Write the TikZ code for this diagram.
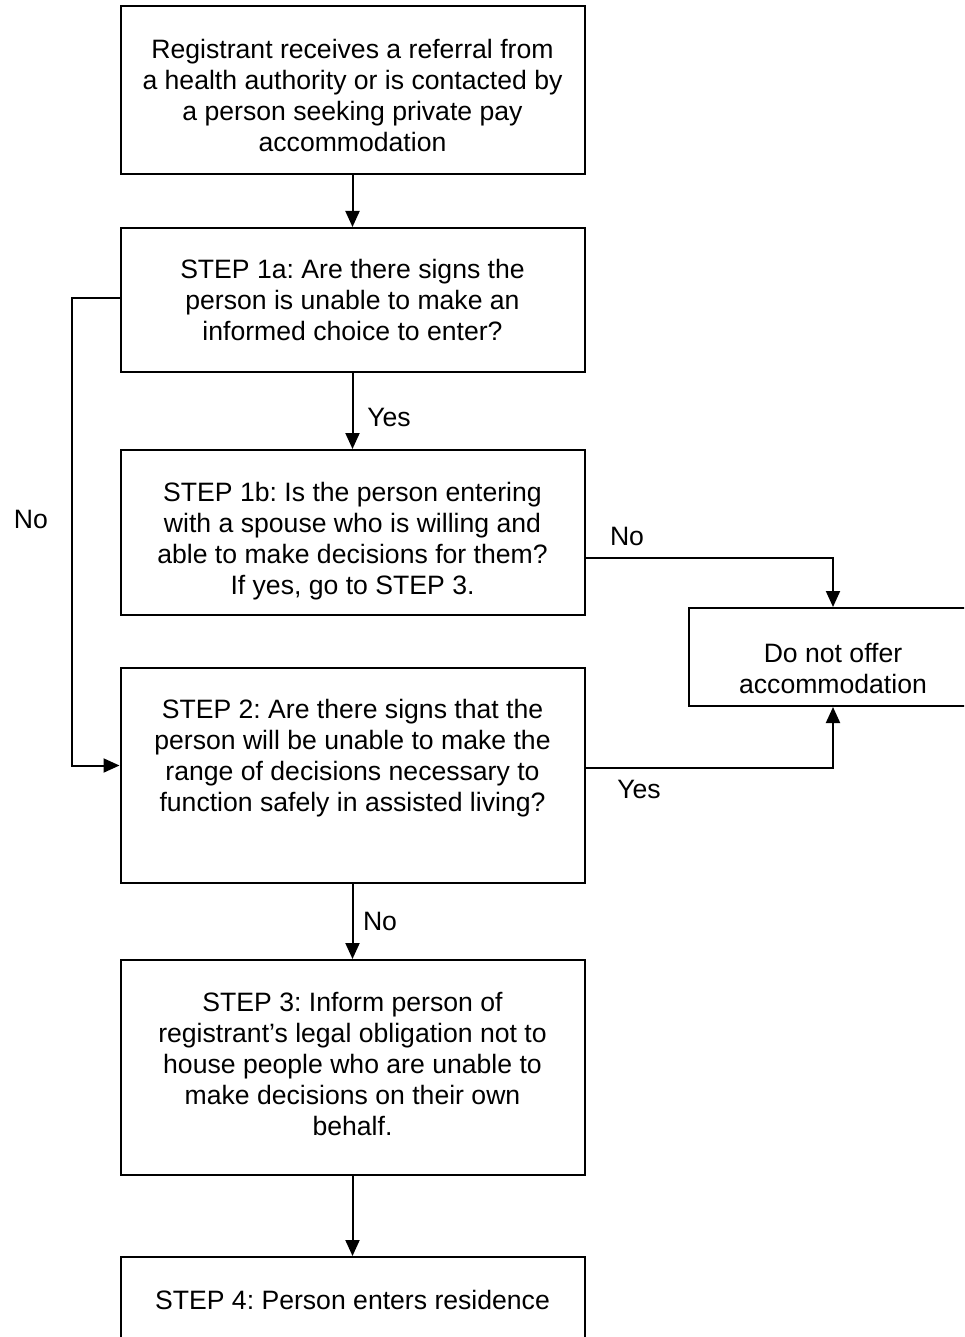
\documentclass[tikz,border=0pt]{standalone}
\usepackage{fontspec}
\setmainfont{Liberation Sans}
\frenchspacing
\usetikzlibrary{arrows.meta}
% push the text of a box down (top strut) or up (bottom strut)
\newcommand\topgap[1]{\rule{0pt}{#1}}
\newcommand\botgap[1]{\rule[-#1]{0pt}{#1}}

\begin{document}
\begin{tikzpicture}[
  x=0.5pt, y=-0.5pt,
  every node/.style={font=\fontsize{13.3}{15.5}\selectfont},
  stepbox/.style={draw, line width=1pt, align=center, minimum width=232pt, inner sep=0pt},
  arr/.style={line width=1pt, -{Triangle[width=7pt,length=8pt]}},
  lbl/.style={inner sep=0pt}
]
\fill[white] (0,0) rectangle (964,1337);
\clip (0,0) rectangle (964,1337);
\useasboundingbox (0,0) rectangle (964,1337);

% boxes of the main column
\node[stepbox, minimum height=84pt] (reg) at (352.5,90)
  {\topgap{14.7pt}Registrant receives a referral from\\a health authority or is contacted by\\a person seeking private pay\\accommodation};
\node[stepbox, minimum height=72pt] (s1a) at (352.5,300)
  {STEP 1a: Are there signs the\\person is unable to make an\\informed choice to enter?};
\node[stepbox, minimum height=82.5pt] (s1b) at (352.5,532.5)
  {\topgap{18.7pt}STEP 1b: Is the person entering\\with a spouse who is willing and\\able to make decisions for them?\\If yes, go to STEP 3.};
\node[stepbox, minimum height=107.5pt] (s2) at (352.5,775.5)
  {STEP 2: Are there signs that the\\person will be unable to make the\\range of decisions necessary to\\function safely in assisted living?\\\strut};
\node[stepbox, minimum height=107.5pt] (s3) at (352.5,1067.5)
  {STEP 3: Inform person of\\registrant’s legal obligation not to\\house people who are unable to\\make decisions on their own\\behalf.\botgap{4pt}};
\node[stepbox, minimum height=43pt] (s4) at (352.5,1300)
  {STEP 4: Person enters residence};
\node[stepbox, minimum width=144pt, minimum height=49pt] (refuse) at (833,657)
  {\topgap{20.7pt}Do not offer\\accommodation};

% straight arrows down the column
\foreach \a/\b in {reg/s1a, s1a/s1b, s2/s3, s3/s4}
  \draw[arr] (\a) -- (\b);

% side branches
\draw[arr] ([yshift=1pt]s1a.west) -- ++(-48,0) |- ([yshift=5pt]s2.west);
\draw[arr] ([yshift=-12.75pt]s1b.east) -| (refuse.north);
\draw[arr] ([yshift=3.75pt]s2.east) -| (refuse.south);

% labels
\node[lbl] (yes1) at (389,417) {Yes};
\node[lbl] (no1) at (31,519) {No};
\node[lbl] (no2) at (627,536) {No};
\node[lbl] (yes2) at (639,789) {Yes};
\node[lbl] (no3) at (380,921) {No};
\end{tikzpicture}
\end{document}
